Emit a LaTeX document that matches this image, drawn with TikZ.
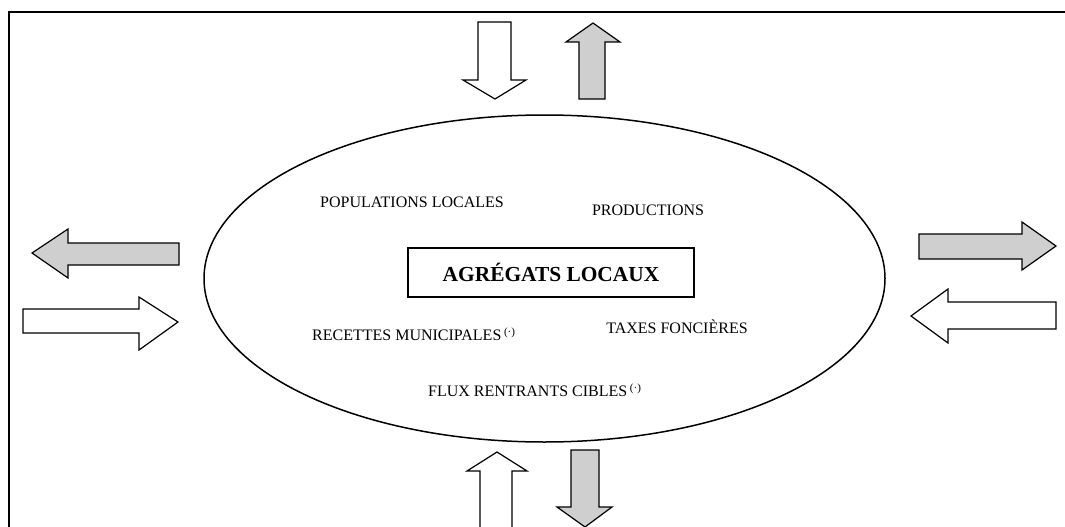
\documentclass[tikz,border=0pt]{standalone}
\usepackage{fontspec}
\setmainfont{Liberation Serif}
\usetikzlibrary{shapes.geometric}
\begin{document}
\begin{tikzpicture}[x=1pt,y=-1pt,
  frameline/.style={line width=1.8pt},
  whitearrow/.style={draw=black,fill=white,line width=1.2pt,line join=miter},
  grayarrow/.style={draw=black,fill=gray!38,line width=1.2pt,line join=miter},
  lbl/.style={inner sep=0pt,font=\fontsize{16}{18}\selectfont},
  titlebox/.style={draw,line width=1.2pt,minimum width=286pt,minimum height=49pt,inner sep=0pt,font=\fontsize{21.4}{24}\selectfont\bfseries},
  oval/.style={draw,ellipse,line width=1.5pt,minimum width=681pt,minimum height=327pt,inner sep=0pt}]
\useasboundingbox (0,0) rectangle (1065,527);
% frame
\draw[frameline] (1066,12) -- (9,12) -- (9,528);
% ellipse
\node[oval] (ell) at (544.5,278.5) {};
% top arrows
\draw[whitearrow] (478,22) -- (511,22) -- (511,80) -- (526,80) -- (495,99) -- (463,80) -- (478,80) -- cycle;
\draw[grayarrow] (593,23) -- (620,42) -- (605,42) -- (605,99) -- (579,99) -- (579,42) -- (566,42) -- cycle;
% left arrows
\draw[grayarrow] (32,253) -- (68,229) -- (68,243) -- (179,243) -- (179,265) -- (68,265) -- (68,278) -- cycle;
\draw[whitearrow] (23,309) -- (139,309) -- (139,297) -- (178,322) -- (139,350) -- (139,333) -- (23,333) -- cycle;
% right arrows
\draw[grayarrow] (919,234) -- (1022,234) -- (1022,222) -- (1056,246) -- (1022,270) -- (1022,259) -- (919,259) -- cycle;
\draw[whitearrow] (911,316) -- (948,289) -- (948,302) -- (1056,302) -- (1056,329) -- (948,329) -- (948,343) -- cycle;
% bottom arrows
\draw[whitearrow] (497,452) -- (527,471) -- (512,471) -- (512,530) -- (480,530) -- (480,471) -- (467,471) -- cycle;
\draw[grayarrow] (571,450) -- (599,450) -- (599,507) -- (612,507) -- (585,527) -- (557,507) -- (571,507) -- cycle;
% texts
\node[titlebox] (agg) at (551,272.5) {AGRÉGATS LOCAUX};
\node[lbl] (pop) at (412,202) {POPULATIONS LOCALES};
\node[lbl] (prod) at (648,210) {PRODUCTIONS};
\node[lbl,anchor=west] (rec) at (312,334) {RECETTES MUNICIPALES\,{\fontsize{11}{12}\selectfont\raisebox{5pt}{(·)}}};
\node[lbl] (tax) at (677,327) {TAXES FONCIÈRES};
\node[lbl,anchor=west] (flux) at (428,390) {FLUX RENTRANTS CIBLES\,{\fontsize{11}{12}\selectfont\raisebox{5pt}{(·)}}};
\end{tikzpicture}
\end{document}
